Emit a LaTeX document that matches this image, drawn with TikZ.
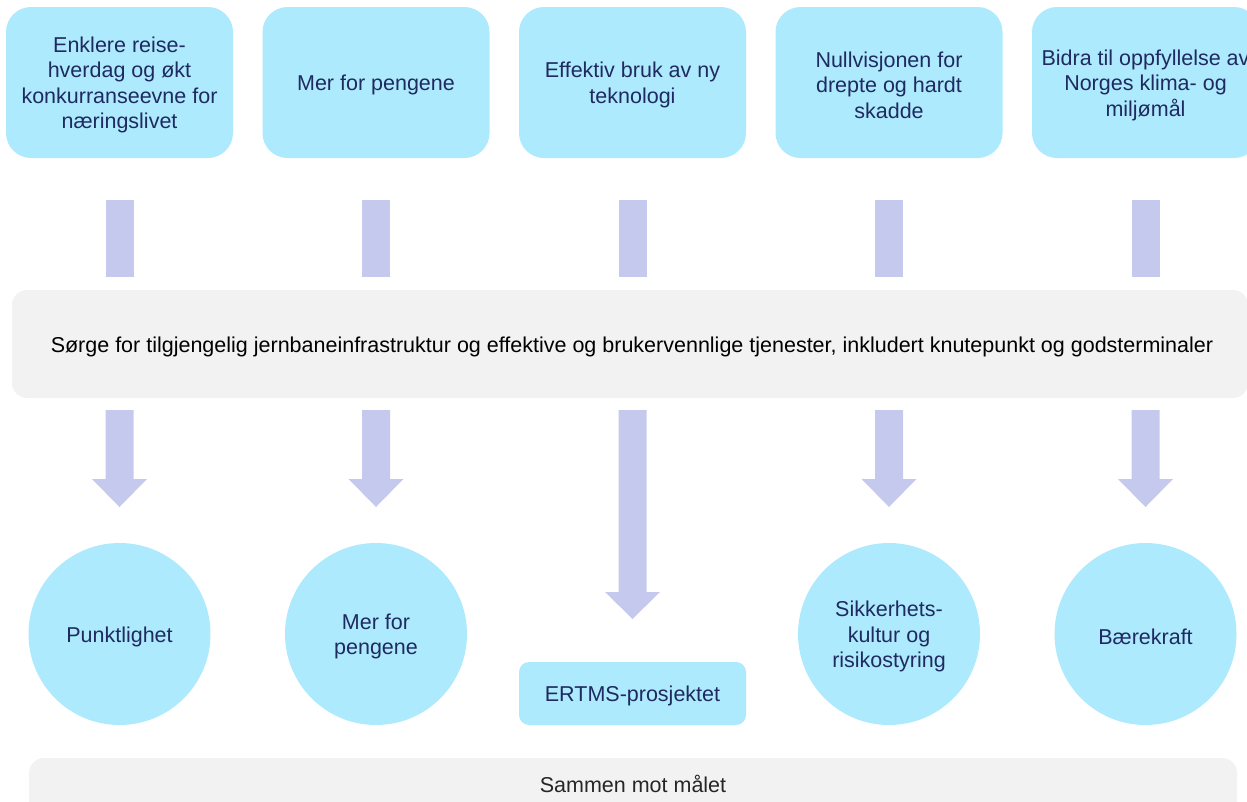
\documentclass[tikz,border=0pt]{standalone}
\usepackage{fontspec}
\setmainfont{Liberation Sans}
\definecolor{boxblue}{HTML}{AEEAFD}
\definecolor{arrowlilac}{HTML}{C6C9EE}
\definecolor{panelgray}{HTML}{F2F2F2}
\definecolor{navytext}{HTML}{1F2A60}
\begin{document}
\begin{tikzpicture}[x=1pt,y=-1pt,
  txt/.style={font=\fontsize{21.5}{25.5}\selectfont, align=center},
  label/.style={txt, yshift=-2.5pt},
  goal/.style={fill=boxblue, rounded corners=25pt,
    minimum width=227pt, minimum height=151pt, inner sep=0pt},
  focus/.style={circle, fill=boxblue, minimum size=182pt, inner sep=0pt},
  project/.style={fill=boxblue, rounded corners=10pt,
    minimum width=227pt, minimum height=63pt, inner sep=0pt},
  bluetext/.style={label, text=navytext},
  panel/.style={fill=panelgray, rounded corners=15pt},
  barstyle/.style={fill=arrowlilac}]
\useasboundingbox (0,0) rectangle (1247,801);
\clip (0,0) rectangle (1247,801);

% overall goals
\foreach \name/\cx in {g1/119.5, g2/376, g3/632.5, g4/889, g5/1145.5}
  \node[goal] (\name) at (\cx,82.5) {};
\node[bluetext] at (g1) {Enklere reise-\\hverdag og økt\\konkurranseevne for\\næringslivet};
\node[bluetext] at (g2) {Mer for pengene};
\node[bluetext] at (g3) {Effektiv bruk av ny\\teknologi};
\node[bluetext] at (g4) {Nullvisjonen for\\drepte og hardt\\skadde};
\node[bluetext] at (g5) {Bidra til oppfyllelse av\\Norges klima- og\\miljømål};

% main objective panel
\path[panel] (12,290) rectangle (1248,398);
\node[label, text=black] (main) at (632,344) {Sørge for tilgjengelig jernbaneinfrastruktur og effektive og brukervennlige tjenester, inkludert knutepunkt og godsterminaler};

% bars from goals to the panel
\foreach \cx in {119.5,376,632.5,889,1145.5}
  \path[barstyle] (\cx-14,200) rectangle (\cx+14,277);

% block arrows from the panel down to the focus areas
\foreach \cx/\neck/\tip in {119.5/479/507, 376/479/507, 632.5/592/619, 889/479/507, 1145.5/479/507}
  \path[barstyle] (\cx-14,410) -- (\cx+14,410) -- (\cx+14,\neck) -- (\cx+27.5,\neck)
    -- (\cx,\tip) -- (\cx-27.5,\neck) -- (\cx-14,\neck) -- cycle;

% focus areas
\node[focus] (f1) at (119.5,634) {};
\node[focus] (f2) at (376,634) {};
\node[project] (f3) at (632.5,693.5) {};
\node[focus] (f4) at (889,634) {};
\node[focus] (f5) at (1145.5,634) {};
\node[bluetext] at (f1) {Punktlighet};
\node[bluetext] at (f2) {Mer for\\pengene};
\node[bluetext] at (f3) {ERTMS-prosjektet};
\node[bluetext] at (f4) {Sikkerhets-\\kultur og\\risikostyring};
\node[bluetext] at (f5) {Bærekraft};

% footer panel
\path[panel] (29,758) rectangle (1237,830);
\node[label, text=black!85] (footer) at (633,781) {Sammen mot målet};
\end{tikzpicture}
\end{document}
